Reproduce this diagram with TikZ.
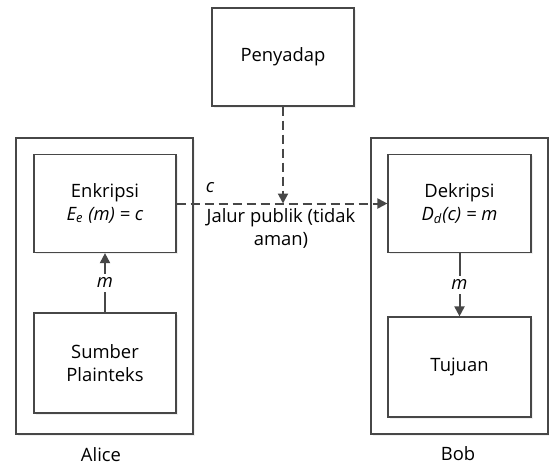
\documentclass[tikz,border=0pt]{standalone}
\usepackage{fontspec}
\setmainfont{Open Sans}
\usetikzlibrary{arrows.meta}
\usetikzlibrary{shadows}

\begin{document}
\begin{tikzpicture}[x=0.5pt, y=-0.5pt,
    font=\fontsize{9.2}{11.5}\selectfont,
    line/.style={draw=black!72, line width=0.6pt},
    softshadow/.style={drop shadow={shadow xshift=0.8pt, shadow yshift=-0.8pt, opacity=0.12}},
    box/.style={line, fill=white, softshadow, align=center, inner sep=0pt,
      minimum width=71pt, minimum height=49pt},
    side/.style={line, fill=white, softshadow, minimum width=88.5pt, minimum height=148pt},
    flow/.style={black!72, line width=1pt, -{Triangle[length=5pt,width=5pt]}},
    tap/.style={flow, dash pattern=on 4.5pt off 2.5pt}]
      \useasboundingbox (0,0) rectangle (549,465);

      \draw (283,57) node[box] (Penyadap) {Penyadap};
      \draw (104.5,286) node[side] (Alice) {};
      \draw (459.5,286) node[side] (Bob) {};

      \draw (105,203.5) node[box] (Enkripsi)
        {Enkripsi\\\textit{E\textsubscript{e} (m) = c}};
      \draw (105,363) node[box, minimum height=50pt] (Sumber) {Sumber\\Plainteks};
      \draw (459.5,203.5) node[box, minimum width=71.5pt] (Dekripsi)
        {Dekripsi\\\textit{D\textsubscript{d}(c) = m}};
      \draw (459.5,367) node[box, minimum width=71.5pt, minimum height=50pt] (Tujuan) {Tujuan};

      \draw (101,455) node (namaA) {Alice};
      \draw (458,454) node (namaB) {Bob};

      \draw[flow] (Sumber) -- (Enkripsi)
        node[pos=0.5, fill=white, text=black, inner sep=2pt] (mA) {\textit{m}};
      \draw[flow] (Dekripsi) -- (Tujuan)
        node[pos=0.5, fill=white, text=black, inner sep=2pt] (mB) {\textit{m}};

      \draw[tap] (Enkripsi) -- (Dekripsi);
      \coordinate (sadap) at (Penyadap.south |- Enkripsi.east);
      \draw[tap] (Penyadap) -- (sadap);

      \draw (210,188) node (c) {\textit{c}};
      \draw (281,208) node[anchor=north, align=center, inner sep=0pt] (jalur)
        {Jalur publik (tidak\\aman)};
\end{tikzpicture}
\end{document}
